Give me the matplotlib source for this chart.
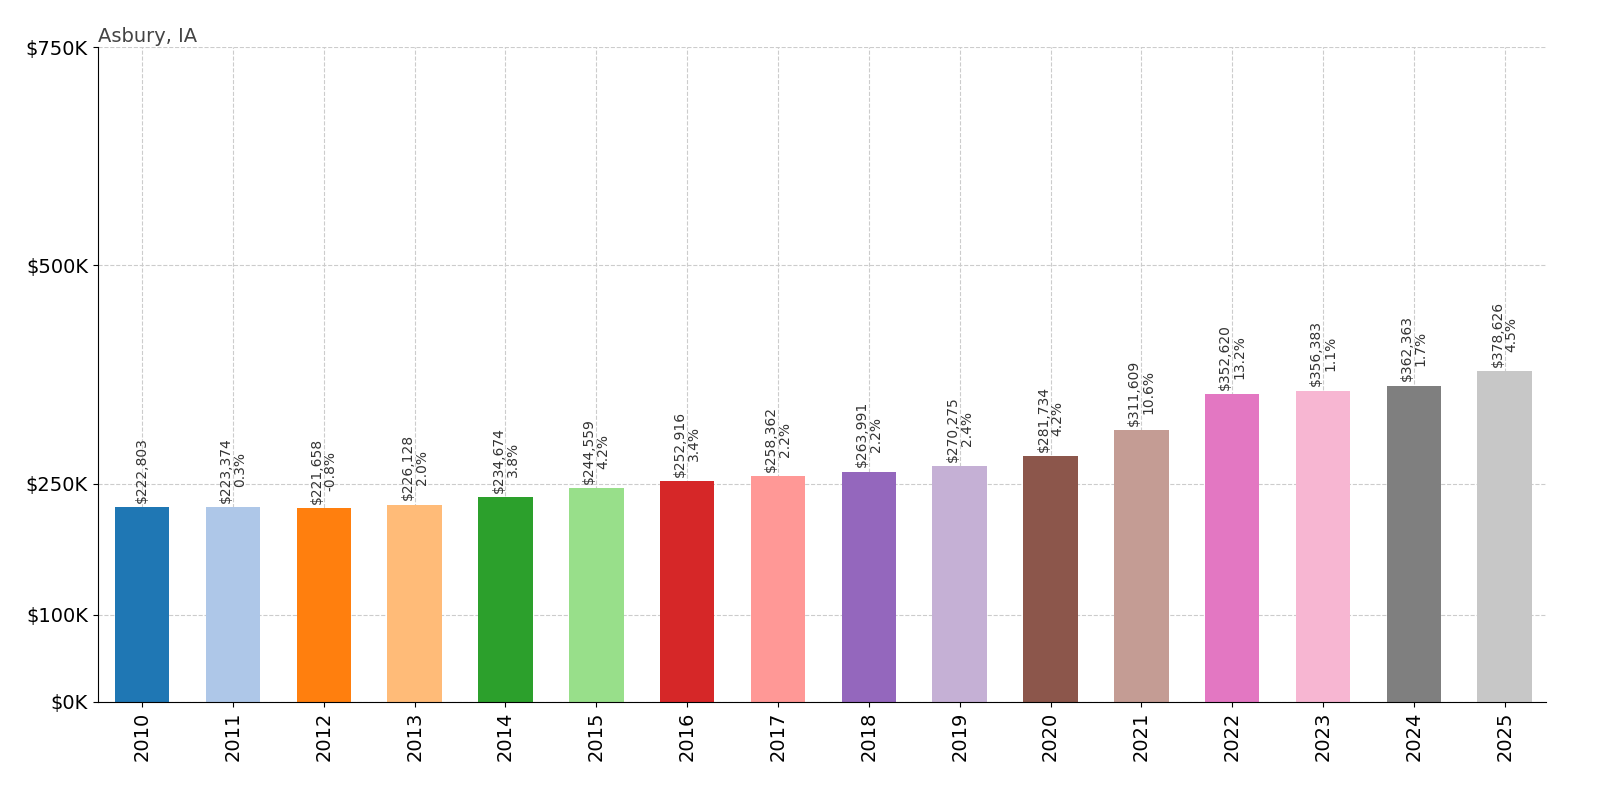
import matplotlib
matplotlib.use("Agg")
import matplotlib.pyplot as plt
from matplotlib.ticker import FuncFormatter

years = [str(y) for y in range(2010, 2026)]
values = [222803, 223374, 221658, 226128, 234674, 244559, 252916, 258362,
          263991, 270275, 281734, 311609, 352620, 356383, 362363, 378626]
pcts = [None, "0.3%", "-0.8%", "2.0%", "3.8%", "4.2%", "3.4%", "2.2%",
        "2.2%", "2.4%", "4.2%", "10.6%", "13.2%", "1.1%", "1.7%", "4.5%"]
yticks = [0, 100000, 250000, 500000, 750000]

colors = plt.get_cmap("tab20").colors
fig = plt.figure(figsize=(16, 8), dpi=100)
ax = fig.add_axes([0.061, 0.1225, 0.905, 0.8185])
x = range(len(years))
ax.bar(x, values, width=0.6, color=[colors[i % 20] for i in x], zorder=2)
for i, v in enumerate(values):
    lab = f"${v:,}" if pcts[i] is None else f"${v:,}\n{pcts[i]}"
    ax.text(i, v + 5000, lab, rotation=90, ha="center", va="bottom",
            fontsize=10, color="#333333", linespacing=1.0)
ax.set_xticks(list(x))
ax.set_xticklabels(years, rotation=90, fontsize=14)
ax.set_yticks(yticks)
ax.yaxis.set_major_formatter(FuncFormatter(lambda v, p: f"${int(v/1000)}K"))
ax.tick_params(axis="y", labelsize=14)
ax.set_ylim(0, 750000)
ax.set_xlim(-0.49, 15.45)
ax.grid(True, linestyle="--", color="#cccccc", zorder=0)
ax.set_axisbelow(True)
ax.spines["top"].set_visible(False)
ax.spines["right"].set_visible(False)
ax.set_title("Asbury, IA", loc="left", fontsize=14, color="#444444", pad=4)
fig.savefig("out.png", dpi=100)
